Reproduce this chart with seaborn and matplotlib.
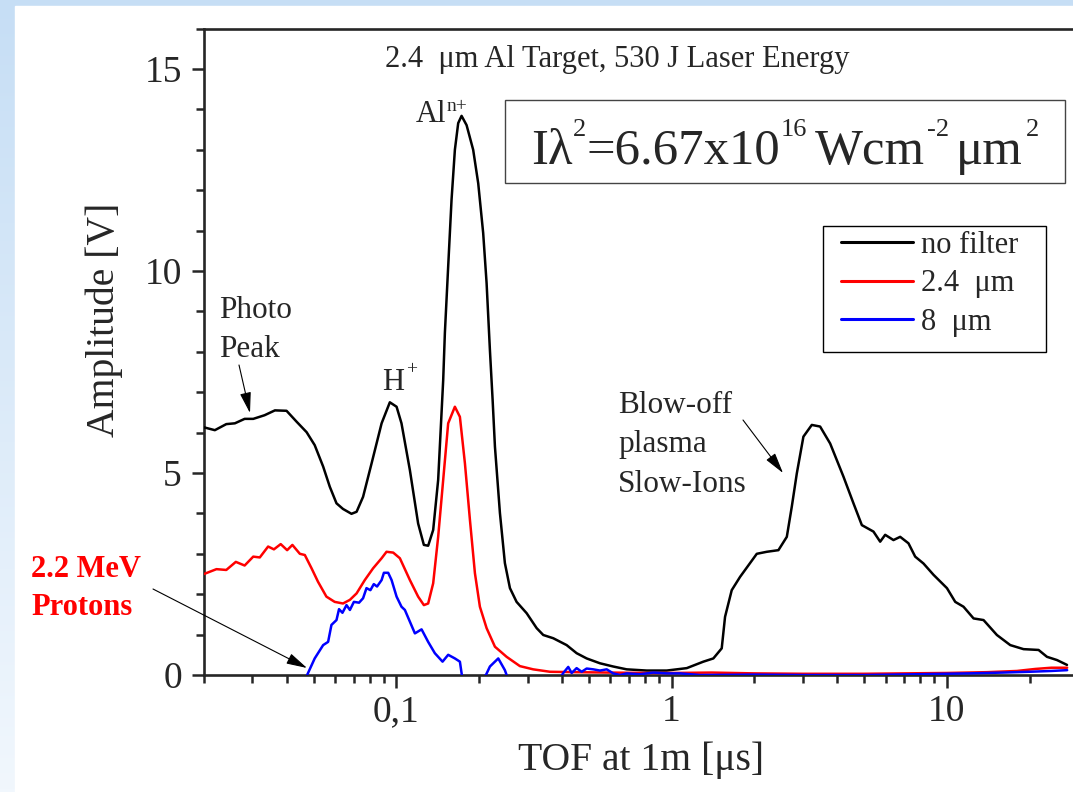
import numpy as np
import pandas as pd
import matplotlib
matplotlib.use('Agg')
import matplotlib.pyplot as plt
import seaborn as sns
from matplotlib.patches import Rectangle
from matplotlib.colors import LinearSegmentedColormap
from matplotlib.ticker import LogLocator, NullFormatter, MultipleLocator

# values: TOF in us, amplitude in V
tof_nofilter = [0.02, 0.0219, 0.0241, 0.0259, 0.0281, 0.0302, 0.0332, 0.0362, 0.0399, 0.0434,
                0.0472, 0.0505, 0.0542, 0.0573, 0.0606, 0.0640, 0.0687, 0.0717, 0.0757, 0.0813,
                0.0884, 0.0947, 0.1002, 0.1044, 0.112, 0.120, 0.1259, 0.1305, 0.1361, 0.1419,
                0.148, 0.1501, 0.1543, 0.1587, 0.1632, 0.1678, 0.1726, 0.18, 0.1902, 0.1984,
                0.2068, 0.2128, 0.2188, 0.2238, 0.2282, 0.2379, 0.248, 0.2587, 0.2735, 0.2975,
                0.3235, 0.3419, 0.3717, 0.4158, 0.452, 0.4916, 0.5495, 0.6141, 0.6871, 0.8125,
                0.9606, 1.136, 1.305, 1.419, 1.522, 1.565, 1.655, 1.775, 2.041, 2.22,
                2.446, 2.624, 2.736, 2.853, 3.015, 3.234, 3.467, 3.771, 4.215, 4.583,
                4.916, 5.418, 5.731, 5.976, 6.405, 6.775, 7.262, 7.682, 8.234, 8.954,
                10.02, 10.74, 11.51, 12.52, 13.61, 15.22, 17.02, 19.02, 21.57, 23.14,
                25.16, 27.36]
amp_nofilter = [6.13, 6.06, 6.21, 6.23, 6.34, 6.34, 6.43, 6.55, 6.54, 6.27,
                6.01, 5.69, 5.16, 4.66, 4.25, 4.11, 3.99, 4.04, 4.41, 5.24,
                6.23, 6.75, 6.64, 6.23, 5.07, 3.75, 3.22, 3.20, 3.59, 4.83,
                7.30, 8.47, 10.11, 11.76, 13.0, 13.66, 13.84, 13.61, 13.0, 12.17,
                10.94, 9.70, 8.04, 6.81, 5.65, 4.01, 2.77, 2.15, 1.81, 1.53,
                1.16, 0.99, 0.91, 0.74, 0.54, 0.41, 0.29, 0.21, 0.14, 0.11,
                0.11, 0.17, 0.33, 0.41, 0.66, 1.44, 2.10, 2.43, 3.0, 3.05,
                3.09, 3.42, 4.17, 4.99, 5.90, 6.19, 6.15, 5.73, 4.91, 4.25,
                3.71, 3.55, 3.30, 3.47, 3.34, 3.42, 3.26, 2.93, 2.76, 2.48,
                2.15, 1.81, 1.69, 1.40, 1.36, 0.99, 0.74, 0.64, 0.62, 0.45,
                0.37, 0.25]

tof_24um = [0.02, 0.0222, 0.0241, 0.0261, 0.0281, 0.0302, 0.0319, 0.0342, 0.0359, 0.0380,
            0.0401, 0.0419, 0.0446, 0.0465, 0.0492, 0.0519, 0.0557, 0.0597, 0.0640, 0.0678,
            0.0717, 0.0768, 0.0823, 0.0884, 0.0921, 0.0974, 0.1030, 0.112, 0.120, 0.1259,
            0.1305, 0.1361, 0.1419, 0.148, 0.1543, 0.1632, 0.1702, 0.1775, 0.1851, 0.193,
            0.2012, 0.2128, 0.2282, 0.2516, 0.2812, 0.3143, 0.3615, 0.45, 0.6, 0.8,
            1.0, 1.4, 2.0, 3.0, 5.0, 7.0, 10.0, 14.0, 18.0, 21.0,
            24.0, 27.4]
amp_24um = [2.50, 2.62, 2.60, 2.80, 2.71, 2.93, 2.91, 3.18, 3.11, 3.24,
            3.09, 3.22, 3.00, 2.97, 2.64, 2.31, 1.94, 1.81, 1.77, 1.86,
            2.02, 2.35, 2.64, 2.89, 3.05, 3.03, 2.89, 2.35, 1.94, 1.73,
            1.77, 2.27, 3.42, 4.83, 6.23, 6.64, 6.39, 5.24, 3.84, 2.52,
            1.69, 1.16, 0.70, 0.45, 0.22, 0.14, 0.08, 0.07, 0.06, 0.05,
            0.05, 0.06, 0.04, 0.03, 0.03, 0.04, 0.05, 0.07, 0.10, 0.15,
            0.18, 0.18]

tof_8um = [0.0474, 0.0505, 0.0542, 0.0565, 0.0581, 0.0606, 0.0619, 0.0637, 0.0659, 0.0678,
           0.0701, 0.0732, 0.0757, 0.0779, 0.0805, 0.0828, 0.0851, 0.0884, 0.0901, 0.0934,
           0.0961, 0.1002, 0.1044, 0.1074, 0.112, 0.1168, 0.1235, 0.1305, 0.138, 0.1472,
           0.1543, 0.1632, 0.1702, 0.173, 0.178, 0.194, 0.2116, 0.2188, 0.2346, 0.248,
           0.2516, 0.263, 0.377, 0.4042, 0.4214, 0.4336, 0.452, 0.4715, 0.4916, 0.5195,
           0.5495, 0.5813, 0.6141, 0.6497, 0.6871, 0.768, 0.8587, 0.9606, 1.074, 1.269,
           2.0, 3.0, 5.0, 8.0, 12.0, 16.0, 20.0, 24.0, 27.4]
amp_8um = [0.0, 0.41, 0.74, 0.82, 1.24, 1.36, 1.63, 1.54, 1.73, 1.61,
           1.81, 1.79, 1.90, 2.15, 2.10, 2.25, 2.19, 2.35, 2.53, 2.53,
           2.35, 1.94, 1.69, 1.61, 1.32, 1.03, 1.13, 0.82, 0.54, 0.33,
           0.50, 0.41, 0.33, 0.0, -0.3, -0.2, 0.0, 0.21, 0.41, 0.12,
           0.0, -0.3, -0.3, 0.05, 0.20, 0.05, 0.17, 0.08, 0.16, 0.14,
           0.11, 0.14, 0.04, 0.0, 0.04, 0.02, 0.06, 0.04, 0.04, 0.0,
           0.01, 0.0, 0.0, 0.02, 0.04, 0.06, 0.08, 0.10, 0.12]

labels = ['no filter', '2.4  μm', '8  μm']
colors = ['black', 'red', 'blue']

df = pd.concat([
    pd.DataFrame({'tof': tof_nofilter, 'amp': amp_nofilter, 'filter': labels[0]}),
    pd.DataFrame({'tof': tof_24um, 'amp': amp_24um, 'filter': labels[1]}),
    pd.DataFrame({'tof': tof_8um, 'amp': amp_8um, 'filter': labels[2]}),
], ignore_index=True)

sns.set_style('ticks')
plt.rcParams['font.family'] = ['Liberation Serif', 'DejaVu Serif']

W, H = 1073, 792
fig = plt.figure(figsize=(W / 100, H / 100), dpi=100)


def fx(px):
    return px / W


def fy(py):
    return 1 - py / H


# light blue slide background
bg = fig.add_axes([0, 0, 1, 1], zorder=-10)
cmap = LinearSegmentedColormap.from_list('bg', ['#c6def5', '#f1f7fd'])
bg.imshow(np.linspace(0, 1, 256)[:, None], aspect='auto', cmap=cmap,
          extent=[0, 1, 0, 1], origin='upper')
bg.add_patch(Rectangle((15 / W, 0), 1, 1 - 6 / H, color='white', transform=bg.transAxes))
bg.set_xlim(0, 1)
bg.set_ylim(0, 1)
bg.axis('off')

ax = fig.add_axes([204 / W, (H - 675) / H, 874 / W, 646.4 / H])
sns.lineplot(data=df, x='tof', y='amp', hue='filter', hue_order=labels,
             palette=dict(zip(labels, colors)), estimator=None, sort=False,
             linewidth=1.8, ax=ax, zorder=3)

ax.set_xscale('log')
ax.set_xlim(0.02, 30)
ax.set_ylim(0, 16)
ax.set_xticks([0.1, 1, 10], ['0,1', '1', '10'])
ax.xaxis.set_minor_locator(LogLocator(base=10, subs=np.arange(2, 10), numticks=20))
ax.xaxis.set_minor_formatter(NullFormatter())
ax.set_yticks([0, 5, 10, 15])
ax.yaxis.set_minor_locator(MultipleLocator(1))
ax.tick_params(which='major', length=9, width=1.8, labelsize=27, pad=5, direction='out')
ax.tick_params(which='minor', length=5.5, width=1.8, direction='out')
ax.tick_params(axis='y', which='major', pad=7)
for s in ax.spines.values():
    s.set_linewidth(1.9)

ax.set_xlabel('TOF at 1m [μs]', fontsize=28.5)
ax.set_ylabel('Amplitude [V]', fontsize=28.5)
ax.xaxis.set_label_coords(0.5, -0.103)
ax.yaxis.set_label_coords(-0.093, 0.549)

# legend: own frame, handles placed inside it
fig.add_artist(Rectangle((fx(823), fy(352)), 223 / W, 126 / H, fill=False,
                         edgecolor='black', lw=1, transform=fig.transFigure))
handles, _ = ax.get_legend_handles_labels()
leg = ax.legend(handles, labels, loc='upper left', bbox_to_anchor=(fx(841), fy(231)),
                bbox_transform=fig.transFigure, borderaxespad=0, borderpad=0,
                fontsize=22, frameon=False, handlelength=2.35, handletextpad=0.28,
                labelspacing=0.31)
for line in leg.get_lines():
    line.set_linewidth(2.2)

# intensity box, text pieces chained one after the other
fig.add_artist(Rectangle((fx(505), fy(183)), 560 / W, 83 / H, fill=False,
                         edgecolor='#444444', lw=1, transform=fig.transFigure))
renderer = fig.canvas.get_renderer()
eq_parts = [('Iλ', 36.5, 164, 0), ('2', 19, 136, 1), ('=6.67x10', 36.5, 164, 0),
            ('16', 19, 136, 8), ('Wcm', 36.5, 164, 2), ('-2', 19, 136, 7),
            ('μm', 36.5, 164, 3), ('2', 19, 136, 0)]
x_px = 531
for txt, size, py, gap in eq_parts:
    t = fig.text(fx(x_px), fy(py), txt, fontsize=size, va='baseline')
    x_px = t.get_window_extent(renderer).x1 + gap

fig.text(fx(617), fy(67), '2.4  μm Al Target, 530 J Laser Energy', fontsize=22,
         ha='center', va='baseline')

fig.text(fx(416), fy(122), 'Al', fontsize=22, va='baseline')
fig.text(fx(447), fy(111), 'n+', fontsize=14, va='baseline')
fig.text(fx(382), fy(390), 'H', fontsize=22, va='baseline')
fig.text(fx(406), fy(374), '+', fontsize=14, va='baseline')

fig.text(fx(219), fy(318), 'Photo', fontsize=22.5, va='baseline')
fig.text(fx(219), fy(357), 'Peak', fontsize=22.5, va='baseline')

for txt, py in zip(['Blow-off', 'plasma', 'Slow-Ions'], [413, 452, 492]):
    fig.text(fx(618), fy(py), txt, fontsize=22.5, va='baseline')

for txt, py in zip(['2.2 MeV', 'Protons'], [577, 615]):
    fig.text(fx(31), fy(py), txt, fontsize=22, va='baseline', color='red',
             fontweight='bold')

arrow = dict(arrowstyle='-|>,head_length=0.75,head_width=0.2', color='black', lw=0.8,
             shrinkA=0, shrinkB=0, mutation_scale=17)
for tail, head in [((239, 365), (250, 413)), ((743, 420), (783, 473)),
                   ((153, 589), (307, 668))]:
    ax.annotate('', xy=(fx(head[0]), fy(head[1])), xycoords='figure fraction',
                xytext=(fx(tail[0]), fy(tail[1])), textcoords='figure fraction',
                arrowprops=arrow)

fig.savefig('out.png', dpi=100)
